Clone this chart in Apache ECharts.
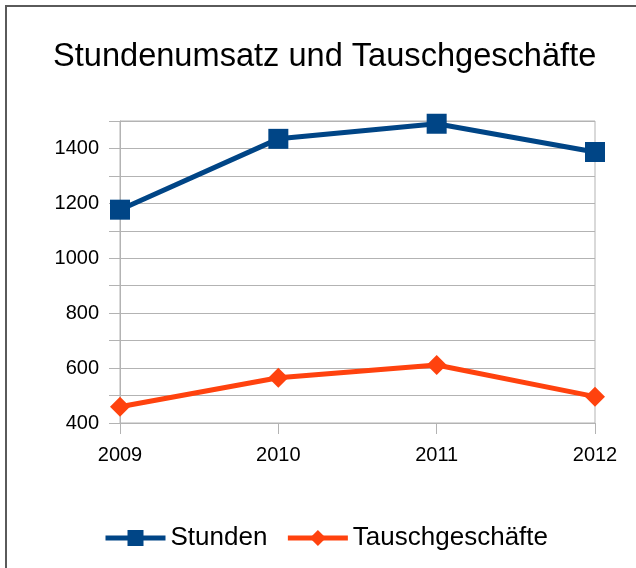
<!DOCTYPE html>
<html>
<head>
<meta charset="utf-8">
<script src="https://cdn.jsdelivr.net/npm/echarts@6/dist/echarts.min.js"></script>
<style>
html,body{margin:0;padding:0;background:#fff;}
#c{width:636px;height:568px;}
</style>
</head>
<body>
<div id="c"></div>
<script>
var categories = ['2009', '2010', '2011', '2012'];
var stunden = [1177, 1435, 1490, 1387];
var tausch = [459, 565, 611, 496];
var seriesNames = ['Stunden', 'Tauschgeschäfte'];
var titleText = 'Stundenumsatz und Tauschgeschäfte';

var chart = echarts.init(document.getElementById('c'), null, {renderer: 'canvas'});
var font = 'Liberation Sans, Arial, sans-serif';
var gridColor = '#b3b3b3';
chart.setOption({
  animation: false,
  backgroundColor: '#fff',
  graphic: [{
    type: 'rect', z: 100,
    shape: {x: 6, y: 6, width: 800, height: 800},
    style: {fill: 'none', stroke: '#5a5a5a', lineWidth: 2}
  }],
  title: {
    text: titleText, left: 48, top: 36,
    textStyle: {fontFamily: font, fontSize: 32.6, fontWeight: 'normal', color: '#000'}
  },
  legend: {
    bottom: 12, left: 98,
    itemWidth: 60, itemHeight: 20, itemGap: 18,
    lineStyle: {width: 5},
    textStyle: {fontFamily: font, fontSize: 26, color: '#000'},
    data: seriesNames
  },
  grid: {left: 120, right: 41, top: 121, bottom: 145, show: true, borderColor: gridColor, borderWidth: 1},
  xAxis: {
    type: 'category', data: categories, boundaryGap: false,
    axisLine: {lineStyle: {color: gridColor, width: 1}},
    axisTick: {show: true, length: 11, lineStyle: {color: gridColor}},
    axisLabel: {fontFamily: font, fontSize: 20, color: '#000', margin: 22},
    splitLine: {show: false}
  },
  yAxis: {
    type: 'value', min: 400, max: 1500, interval: 100,
    axisLine: {show: true, lineStyle: {color: gridColor}},
    axisTick: {show: true, length: 11, lineStyle: {color: gridColor}},
    axisLabel: {
      fontFamily: font, fontSize: 20, color: '#000', margin: 21,
      formatter: function (v) { return v % 200 === 0 ? String(v) : ''; }
    },
    splitLine: {lineStyle: {color: gridColor, width: 1}}
  },
  series: [{
    name: seriesNames[0], type: 'line', data: stunden,
    symbol: 'rect', symbolSize: 20,
    lineStyle: {color: '#004586', width: 5},
    itemStyle: {color: '#004586'}
  }, {
    name: seriesNames[1], type: 'line', data: tausch,
    symbol: 'diamond', symbolSize: 20,
    lineStyle: {color: '#ff420e', width: 5},
    itemStyle: {color: '#ff420e'}
  }]
});
</script>
</body>
</html>
